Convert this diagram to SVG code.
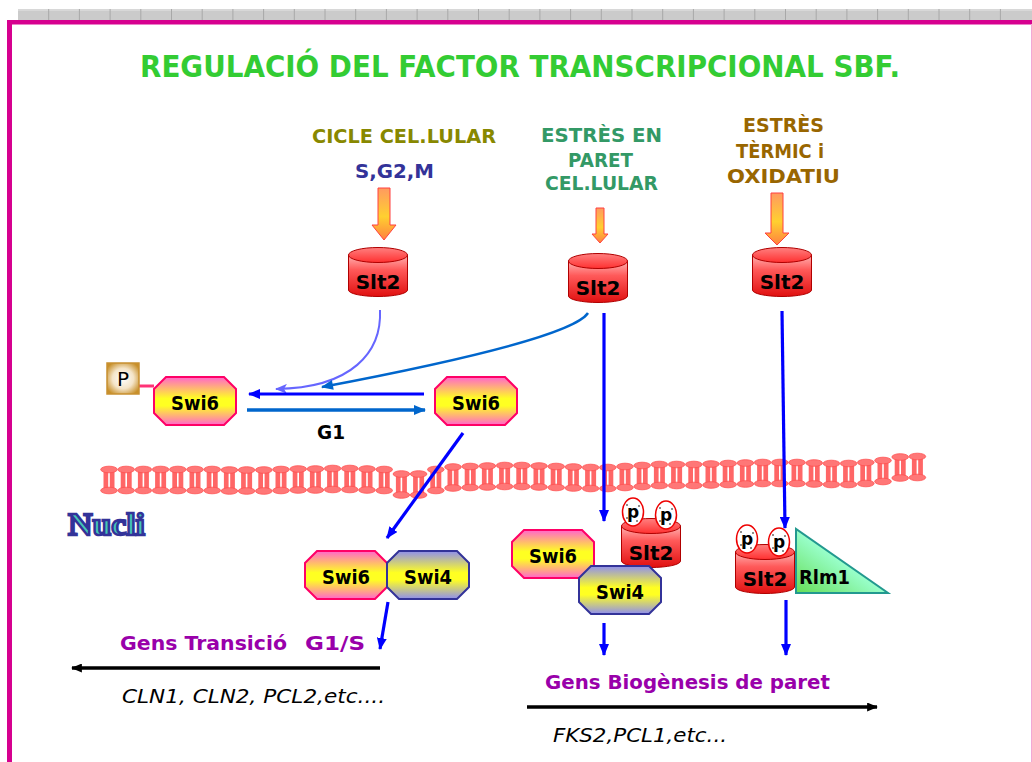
<svg xmlns="http://www.w3.org/2000/svg" width="1032" height="762" viewBox="0 0 1032 762">
  <style>
    .lbl { font-family: "DejaVu Sans", "Liberation Sans", sans-serif; font-weight: bold; }
    .box { font-family: "DejaVu Sans", "Liberation Sans", sans-serif; font-weight: bold; font-size: 20px; fill: #000; text-anchor: middle; }
    .ital { font-family: "DejaVu Sans", "Liberation Sans", sans-serif; font-style: italic; font-size: 19px; fill: #000; }
    .blue { fill: none; stroke: #0000ff; stroke-width: 3.2; }
    .black { fill: none; stroke: #000; stroke-width: 3.5; }
  </style>
  <defs>
    <linearGradient id="gOrange" x1="0" y1="0" x2="0" y2="1">
      <stop offset="0" stop-color="#ff9a60"/>
      <stop offset="0.55" stop-color="#ffd030"/>
      <stop offset="1" stop-color="#ff8040"/>
    </linearGradient>
    <linearGradient id="gCylBody" x1="0" y1="0" x2="0" y2="1">
      <stop offset="0" stop-color="#ffb3b3"/>
      <stop offset="0.35" stop-color="#ff5a5a"/>
      <stop offset="1" stop-color="#e01010"/>
    </linearGradient>
    <linearGradient id="gCylTop" x1="0" y1="0" x2="0" y2="1">
      <stop offset="0" stop-color="#ff8080"/>
      <stop offset="1" stop-color="#ff3030"/>
    </linearGradient>
    <linearGradient id="gSwi6" x1="0" y1="0" x2="0" y2="1">
      <stop offset="0" stop-color="#ff66cc"/>
      <stop offset="0.45" stop-color="#ffff22"/>
      <stop offset="0.6" stop-color="#ffff22"/>
      <stop offset="1" stop-color="#ff66cc"/>
    </linearGradient>
    <linearGradient id="gSwi4" x1="0" y1="0" x2="0" y2="1">
      <stop offset="0" stop-color="#8f8fee"/>
      <stop offset="0.45" stop-color="#ffff22"/>
      <stop offset="0.6" stop-color="#ffff22"/>
      <stop offset="1" stop-color="#8f8fee"/>
    </linearGradient>
    <linearGradient id="gRlm1" x1="0" y1="1" x2="1" y2="0">
      <stop offset="0" stop-color="#66dd55"/>
      <stop offset="0.5" stop-color="#99ffcc"/>
      <stop offset="1" stop-color="#aaffdd"/>
    </linearGradient>
    <radialGradient id="gP" cx="0.5" cy="0.5" r="0.6">
      <stop offset="0" stop-color="#ffffff"/>
      <stop offset="0.55" stop-color="#f4e4c8"/>
      <stop offset="1" stop-color="#c8902a"/>
    </radialGradient>

    <marker id="ahBlue" viewBox="0 0 12 10" refX="11" refY="5" markerWidth="12" markerHeight="10" markerUnits="userSpaceOnUse" orient="auto">
      <path d="M0,0 L12,5 L0,10 z" fill="#0000ff"/>
    </marker>
    <marker id="ahMid" viewBox="0 0 12 10" refX="11" refY="5" markerWidth="13" markerHeight="10" markerUnits="userSpaceOnUse" orient="auto">
      <path d="M0,0 L12,5 L0,10 z" fill="#0066cc"/>
    </marker>
    <marker id="ahLight" viewBox="0 0 12 10" refX="11" refY="5" markerWidth="12" markerHeight="10" markerUnits="userSpaceOnUse" orient="auto">
      <path d="M0,0 L12,5 L0,10 L3,5 z" fill="#6666ff"/>
    </marker>
    <marker id="ahBlack" viewBox="0 0 12 10" refX="11" refY="5" markerWidth="12" markerHeight="9" markerUnits="userSpaceOnUse" orient="auto">
      <path d="M0,0 L12,5 L0,10 z" fill="#000"/>
    </marker>

    <!-- membrane phospholipid unit -->
    <g id="spool">
      <rect x="-5.5" y="-10.5" width="11" height="21" fill="#ff6666"/>
      <line x1="0" y1="-9" x2="0" y2="9" stroke="#ffffff" stroke-width="1.6"/>
      <ellipse cx="0" cy="-10.5" rx="8.3" ry="3.3" fill="#ff7777" stroke="#ff5050" stroke-width="0.8"/>
      <ellipse cx="0" cy="10.5" rx="8.3" ry="3.3" fill="#ff7777" stroke="#ff5050" stroke-width="0.8"/>
    </g>
    <!-- kinase cylinder -->
    <g id="cyl">
      <path d="M0.5 8 V43 A29.5 6.5 0 0 0 59.5 43 V8 Z" fill="url(#gCylBody)" stroke="#b00000" stroke-width="1"/>
      <ellipse cx="30" cy="8" rx="29.5" ry="7.5" fill="url(#gCylTop)" stroke="#b00000" stroke-width="1"/>
    </g>
    <polygon id="oct" points="13,0 71,0 83,12 83,36 71,48 13,48 1,36 1,12"/>
    <!-- phosphate bubble -->
    <g id="phos">
      <ellipse cx="0" cy="0" rx="10.5" ry="14" fill="#ffffff" stroke="#ee0000" stroke-width="1.5"/>
      <text x="0" y="6" font-family="DejaVu Sans, sans-serif" font-weight="bold" font-size="17" text-anchor="middle">p</text>
      <circle cx="-6" cy="-7" r="0.8" fill="#000"/>
      <circle cx="6" cy="-6" r="0.8" fill="#000"/>
      <circle cx="-6" cy="6" r="0.8" fill="#000"/>
      <circle cx="4" cy="9" r="0.8" fill="#000"/>
    </g>
  </defs>

  <rect width="1032" height="762" fill="#ffffff"/>

  <!-- slide frame -->
  <g id="frame">
    <rect x="18" y="9" width="1014" height="11" fill="#cbcbcb"/>
    <line x1="18" y1="10" x2="1032" y2="10" stroke="#e6e6e6" stroke-width="1.2"/>
    <g stroke="#a8a8a8" stroke-width="1">
      <line x1="48.7" y1="9" x2="48.7" y2="20"/><line x1="79.4" y1="9" x2="79.4" y2="20"/>
      <line x1="110.1" y1="9" x2="110.1" y2="20"/><line x1="140.8" y1="9" x2="140.8" y2="20"/>
      <line x1="171.5" y1="9" x2="171.5" y2="20"/><line x1="202.2" y1="9" x2="202.2" y2="20"/>
      <line x1="232.9" y1="9" x2="232.9" y2="20"/><line x1="263.6" y1="9" x2="263.6" y2="20"/>
      <line x1="294.3" y1="9" x2="294.3" y2="20"/><line x1="325" y1="9" x2="325" y2="20"/>
      <line x1="355.7" y1="9" x2="355.7" y2="20"/><line x1="386.4" y1="9" x2="386.4" y2="20"/>
      <line x1="417.1" y1="9" x2="417.1" y2="20"/><line x1="447.8" y1="9" x2="447.8" y2="20"/>
      <line x1="478.5" y1="9" x2="478.5" y2="20"/><line x1="509.2" y1="9" x2="509.2" y2="20"/>
      <line x1="539.9" y1="9" x2="539.9" y2="20"/><line x1="570.6" y1="9" x2="570.6" y2="20"/>
      <line x1="601.3" y1="9" x2="601.3" y2="20"/><line x1="632" y1="9" x2="632" y2="20"/>
      <line x1="662.7" y1="9" x2="662.7" y2="20"/><line x1="693.4" y1="9" x2="693.4" y2="20"/>
      <line x1="724.1" y1="9" x2="724.1" y2="20"/><line x1="754.8" y1="9" x2="754.8" y2="20"/>
      <line x1="785.5" y1="9" x2="785.5" y2="20"/><line x1="816.2" y1="9" x2="816.2" y2="20"/>
      <line x1="846.9" y1="9" x2="846.9" y2="20"/><line x1="877.6" y1="9" x2="877.6" y2="20"/>
      <line x1="908.3" y1="9" x2="908.3" y2="20"/><line x1="939" y1="9" x2="939" y2="20"/>
      <line x1="969.7" y1="9" x2="969.7" y2="20"/><line x1="1000.4" y1="9" x2="1000.4" y2="20"/>
    </g>
    <rect x="7" y="20" width="1025" height="4.5" fill="#d6008f"/>
    <rect x="7" y="20" width="5" height="742" fill="#d6008f"/>
    <line x1="1031.5" y1="24" x2="1031.5" y2="762" stroke="#f2a8d6" stroke-width="1"/>
  </g>

  <g id="title">
    <text x="140" y="77" class="lbl" font-size="30" fill="#33cc33" textLength="760" lengthAdjust="spacingAndGlyphs">REGULACIÓ DEL FACTOR TRANSCRIPCIONAL SBF.</text>
  </g>

  <!-- stimuli -->
  <g id="stim-cycle">
    <text x="312" y="143" class="lbl" font-size="20" fill="#888800" textLength="184" lengthAdjust="spacingAndGlyphs">CICLE CEL.LULAR</text>
    <text x="355" y="178" class="lbl" font-size="20" fill="#333399" textLength="79" lengthAdjust="spacingAndGlyphs">S,G2,M</text>
    <path d="M378 188 H390 V225 H396 L384 240 L372 225 H378 Z" fill="url(#gOrange)" stroke="#ff4040" stroke-width="1"/>
  </g>
  <g id="stim-wall">
    <text x="541" y="142" class="lbl" font-size="20" fill="#339966" textLength="121" lengthAdjust="spacingAndGlyphs">ESTRÈS EN</text>
    <text x="568" y="167" class="lbl" font-size="20" fill="#339966" textLength="65" lengthAdjust="spacingAndGlyphs">PARET</text>
    <text x="545" y="190" class="lbl" font-size="20" fill="#339966" textLength="113" lengthAdjust="spacingAndGlyphs">CEL.LULAR</text>
    <path d="M596 208 H604 V234 H608 L600 243 L592 234 H596 Z" fill="url(#gOrange)" stroke="#ff4040" stroke-width="1"/>
  </g>
  <g id="stim-heat">
    <text x="743" y="132" class="lbl" font-size="20" fill="#996600" textLength="81" lengthAdjust="spacingAndGlyphs">ESTRÈS</text>
    <text x="736" y="158" class="lbl" font-size="20" fill="#996600" textLength="88" lengthAdjust="spacingAndGlyphs">TÈRMIC i</text>
    <text x="727" y="183" class="lbl" font-size="20" fill="#996600" textLength="113" lengthAdjust="spacingAndGlyphs">OXIDATIU</text>
    <path d="M771 193 H783 V233 H789 L777 245 L765 233 H771 Z" fill="url(#gOrange)" stroke="#ff4040" stroke-width="1"/>
  </g>

  <!-- Slt2 kinases -->
  <g id="slt2-a">
    <use href="#cyl" x="348" y="247"/>
    <text x="378" y="289" class="box" font-size="21">Slt2</text>
  </g>
  <g id="slt2-b">
    <use href="#cyl" x="568" y="253"/>
    <text x="598" y="295" class="box" font-size="21">Slt2</text>
  </g>
  <g id="slt2-c">
    <use href="#cyl" x="752" y="247"/>
    <text x="782" y="289" class="box" font-size="21">Slt2</text>
  </g>

  <!-- membrane -->
  <g id="membrane">
    <use href="#spool" x="109" y="480"/><use href="#spool" x="126.2" y="480"/>
    <use href="#spool" x="143.4" y="480"/><use href="#spool" x="160.6" y="480"/>
    <use href="#spool" x="177.8" y="480"/><use href="#spool" x="195" y="480"/>
    <use href="#spool" x="212.2" y="480"/><use href="#spool" x="229.4" y="480.5"/>
    <use href="#spool" x="246.6" y="480.5"/><use href="#spool" x="263.8" y="480.5"/>
    <use href="#spool" x="281" y="480"/><use href="#spool" x="298.2" y="479.5"/>
    <use href="#spool" x="315.4" y="479.5"/><use href="#spool" x="332.6" y="479"/>
    <use href="#spool" x="349.8" y="479"/><use href="#spool" x="367" y="479.5"/>
    <use href="#spool" x="384.2" y="480"/><use href="#spool" x="401.4" y="484.5"/>
    <use href="#spool" x="418.6" y="484.5"/><use href="#spool" x="435.8" y="480"/>
    <use href="#spool" x="453" y="477.5"/><use href="#spool" x="470.2" y="477"/>
    <use href="#spool" x="487.4" y="476.5"/><use href="#spool" x="504.6" y="476"/>
    <use href="#spool" x="521.8" y="476"/><use href="#spool" x="539" y="476.5"/>
    <use href="#spool" x="556.2" y="477"/><use href="#spool" x="573.4" y="477.5"/>
    <use href="#spool" x="590.6" y="478"/><use href="#spool" x="607.8" y="478"/>
    <use href="#spool" x="625" y="477"/><use href="#spool" x="642.2" y="476"/>
    <use href="#spool" x="659.4" y="475"/><use href="#spool" x="676.6" y="475"/>
    <use href="#spool" x="693.8" y="475"/><use href="#spool" x="711" y="474.5"/>
    <use href="#spool" x="728.2" y="474"/><use href="#spool" x="745.4" y="473.5"/>
    <use href="#spool" x="762.6" y="473"/><use href="#spool" x="779.8" y="473"/>
    <use href="#spool" x="797" y="473"/><use href="#spool" x="814.2" y="473.5"/>
    <use href="#spool" x="831.4" y="474"/><use href="#spool" x="848.6" y="474"/>
    <use href="#spool" x="865.8" y="473"/><use href="#spool" x="883" y="471"/>
    <use href="#spool" x="900.2" y="467.5"/><use href="#spool" x="917.4" y="467"/>
  </g>

  <g id="nucli">
    <text x="68" y="535" font-family="Liberation Serif, serif" font-weight="bold" font-size="32" fill="#44c8b4" stroke="#333399" stroke-width="2.4" textLength="77" lengthAdjust="spacingAndGlyphs">Nucli</text>
  </g>

  <!-- connectors -->
  <g id="connectors">
    <path d="M380 310 C382 352, 352 388, 276 389" fill="none" stroke="#6666ff" stroke-width="2" marker-end="url(#ahLight)"/>
    <path d="M588 313 Q570 340 322 387" fill="none" stroke="#0066cc" stroke-width="2.5" marker-end="url(#ahMid)"/>
    <line x1="424" y1="394" x2="249" y2="394" class="blue" stroke-width="3.5" marker-end="url(#ahBlue)"/>
    <line x1="247" y1="410" x2="425" y2="410" fill="none" stroke="#0066cc" stroke-width="3.5" marker-end="url(#ahMid)"/>
    <line x1="463" y1="433" x2="387" y2="538" class="blue" marker-end="url(#ahBlue)"/>
    <line x1="388" y1="602" x2="380" y2="649" class="blue" marker-end="url(#ahBlue)"/>
    <line x1="604" y1="313" x2="604" y2="521" class="blue" marker-end="url(#ahBlue)"/>
    <line x1="604" y1="623" x2="604" y2="655" class="blue" marker-end="url(#ahBlue)"/>
    <line x1="782" y1="311" x2="785" y2="528" class="blue" marker-end="url(#ahBlue)"/>
    <line x1="786" y1="600" x2="786" y2="655" class="blue" marker-end="url(#ahBlue)"/>
    <line x1="380" y1="668" x2="72" y2="668" class="black" marker-end="url(#ahBlack)"/>
    <line x1="527" y1="707" x2="877" y2="707" class="black" marker-end="url(#ahBlack)"/>
    <line x1="139" y1="386" x2="154" y2="386" stroke="#ff3377" stroke-width="3"/>
  </g>
  <text x="317" y="439" class="lbl" font-size="20" fill="#000" textLength="28" lengthAdjust="spacingAndGlyphs">G1</text>

  <g id="phospho-tag">
    <rect x="107" y="363" width="32" height="31" fill="url(#gP)" stroke="#c89030" stroke-width="1.5"/>
    <text x="123" y="386" font-family="DejaVu Sans, sans-serif" font-size="20" fill="#000" text-anchor="middle">P</text>
  </g>

  <g id="swi6-p">
    <use href="#oct" x="153" y="377" fill="url(#gSwi6)" stroke="#ff0066" stroke-width="2"/>
    <text x="195" y="410" class="box" textLength="48" lengthAdjust="spacingAndGlyphs">Swi6</text>
  </g>
  <g id="swi6-free">
    <use href="#oct" x="434" y="377" fill="url(#gSwi6)" stroke="#ff0066" stroke-width="2"/>
    <text x="476" y="410" class="box" textLength="48" lengthAdjust="spacingAndGlyphs">Swi6</text>
  </g>

  <!-- SBF complex, G1/S genes -->
  <g id="sbf-g1s">
    <use href="#oct" x="304" y="551" fill="url(#gSwi6)" stroke="#ff0066" stroke-width="2"/>
    <text x="346" y="584" class="box" textLength="48" lengthAdjust="spacingAndGlyphs">Swi6</text>
    <use href="#oct" x="386" y="551" fill="url(#gSwi4)" stroke="#333399" stroke-width="2"/>
    <text x="428" y="584" class="box" textLength="48" lengthAdjust="spacingAndGlyphs">Swi4</text>
  </g>

  <!-- SBF complex with Slt2 -->
  <g id="sbf-slt2">
    <use href="#cyl" x="621" y="518"/>
    <text x="651" y="560" class="box" font-size="21">Slt2</text>
    <use href="#phos" x="633" y="512"/>
    <use href="#phos" x="666" y="515"/>
    <use href="#oct" x="511" y="530" fill="url(#gSwi6)" stroke="#ff0066" stroke-width="2"/>
    <text x="553" y="563" class="box" textLength="48" lengthAdjust="spacingAndGlyphs">Swi6</text>
    <use href="#oct" x="578" y="566" fill="url(#gSwi4)" stroke="#333399" stroke-width="2"/>
    <text x="620" y="599" class="box" textLength="48" lengthAdjust="spacingAndGlyphs">Swi4</text>
  </g>

  <!-- Slt2 with Rlm1 -->
  <g id="slt2-rlm1">
    <use href="#cyl" x="735" y="544"/>
    <text x="765" y="586" class="box" font-size="21">Slt2</text>
    <use href="#phos" x="747" y="539"/>
    <use href="#phos" x="779" y="542"/>
    <polygon points="796,529 796,593 888,593" fill="url(#gRlm1)" stroke="#22998f" stroke-width="2"/>
    <text x="799" y="584" class="lbl" font-size="19" fill="#000" textLength="51" lengthAdjust="spacingAndGlyphs">Rlm1</text>
  </g>

  <g id="genes-g1s">
    <text x="120" y="650" class="lbl" font-size="19" fill="#9900aa" textLength="167" lengthAdjust="spacingAndGlyphs">Gens Transició</text>
    <text x="305" y="650" class="lbl" font-size="19" fill="#9900aa" textLength="60" lengthAdjust="spacingAndGlyphs">G1/S</text>
    <text x="122" y="703" class="ital" textLength="263" lengthAdjust="spacingAndGlyphs">CLN1, CLN2, PCL2,etc....</text>
  </g>
  <g id="genes-wall">
    <text x="545" y="689" class="lbl" font-size="19" fill="#9900aa" textLength="285" lengthAdjust="spacingAndGlyphs">Gens Biogènesis de paret</text>
    <text x="553" y="742" class="ital" textLength="174" lengthAdjust="spacingAndGlyphs">FKS2,PCL1,etc...</text>
  </g>
</svg>
